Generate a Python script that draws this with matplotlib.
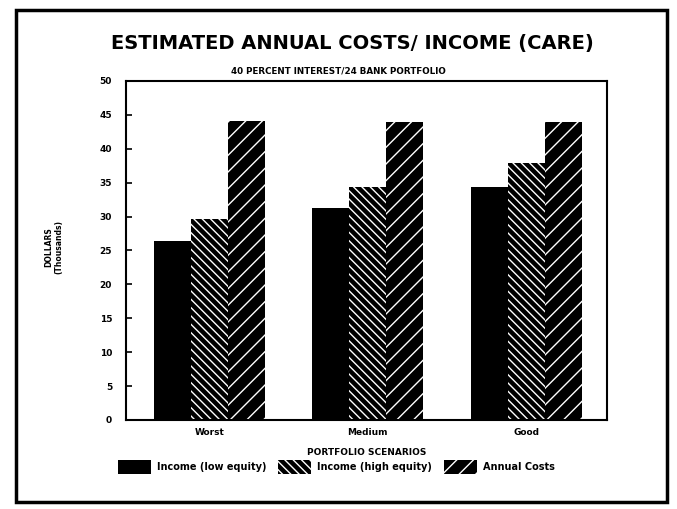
import numpy as np
import matplotlib
matplotlib.use("Agg")
import matplotlib.pyplot as plt
from matplotlib.patches import Patch, Rectangle

# data (thousands of dollars)
categories = ["Worst", "Medium", "Good"]
income_low = [26.4, 31.2, 34.4]
income_high = [29.7, 34.3, 37.9]
annual_costs = [44.1, 44.0, 43.9]
series_labels = ["Income (low equity)", "Income (high equity)", "Annual Costs"]
y_ticks = [0, 5, 10, 15, 20, 25, 30, 35, 40, 45, 50]

plt.rcParams["hatch.linewidth"] = 1.0
plt.rcParams["font.family"] = "DejaVu Sans"

fig = plt.figure(figsize=(6.77, 5.09), dpi=100)
ax = fig.add_axes([0.186, 0.175, 0.711, 0.666])

x = np.arange(len(categories))
w = 0.234
hatches = ["", "\\\\\\\\", "//"]
for i, vals in enumerate([income_low, income_high, annual_costs]):
    ax.bar(x + (i - 1) * w, vals, w, color="black", edgecolor="white",
           linewidth=0, hatch=hatches[i])

ax.set_xlim(-0.528, 2.513)
ax.set_ylim(0, 50)
ax.set_yticks(y_ticks)
ax.set_yticklabels([str(t) for t in y_ticks], fontsize=6.5, fontweight="bold")
ax.set_xticks(x)
ax.set_xticklabels(categories, fontsize=6.5, fontweight="bold")
ax.tick_params(axis="y", direction="in", length=4, width=1.2, pad=10)
ax.tick_params(axis="x", length=0, pad=6)
for s in ax.spines.values():
    s.set_linewidth(1.5)

ax.set_xlabel("PORTFOLIO SCENARIOS", fontsize=6.5, fontweight="bold", labelpad=8)
fig.text(0.08, 0.515, "DOLLARS\n(Thousands)", rotation=90, ha="center", va="center",
         fontsize=5.5, fontweight="bold")

fig.text(0.52, 0.915, "ESTIMATED ANNUAL COSTS/ INCOME (CARE)", ha="center", va="center",
         fontsize=14, fontweight="bold")
fig.text(0.5, 0.86, "40 PERCENT INTEREST/24 BANK PORTFOLIO", ha="center", va="center",
         fontsize=6.3, fontweight="bold")

handles = [Patch(facecolor="black", edgecolor="white", linewidth=0, hatch=h) for h in hatches]
fig.legend(handles, series_labels, loc="center", bbox_to_anchor=(0.497, 0.083), ncol=3,
           frameon=False, handlelength=3.4, handleheight=1.8,
           columnspacing=1.2, handletextpad=0.6, prop={"weight": "bold", "size": 7})

# outer frame of the page
fig.patches.append(Rectangle((0.024, 0.014), 0.961, 0.966, transform=fig.transFigure,
                             fill=False, edgecolor="black", linewidth=2.5))

fig.savefig("out.png", dpi=100)
